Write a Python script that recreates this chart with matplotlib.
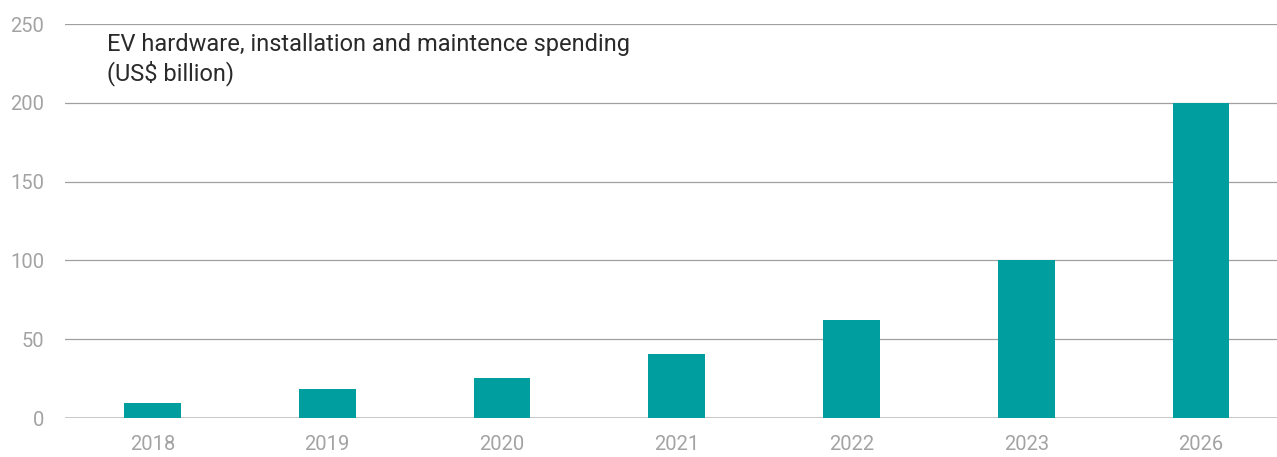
import matplotlib.pyplot as plt

# EV spending data (US$ billion)
years = ["2018", "2019", "2020", "2021", "2022", "2023", "2026"]
spending = [9.5, 18.5, 25.5, 40.5, 62, 100, 200]
y_ticks = [0, 50, 100, 150, 200, 250]

plt.rcParams["font.family"] = ["Roboto", "DejaVu Sans"]

fig = plt.figure(figsize=(12.77, 4.57), dpi=100)
ax = fig.add_axes([65 / 1277, 39 / 457, 1 - 65 / 1277, 394 / 457])

positions = list(range(len(years)))
ax.bar(positions, spending, width=0.325, color="#009e9f", zorder=3)

ax.set_xlim(-0.5, 6.435)
ax.set_ylim(0, 250)
ax.set_yticks(y_ticks)
ax.set_xticks(positions)
ax.set_xticklabels(years)

ax.yaxis.grid(True, color="#a0a0a0", linewidth=0.9, zorder=0)
ax.axhline(0, color="#c8c8c8", linewidth=1.4, zorder=2)
for side in ["top", "right", "left", "bottom"]:
    ax.spines[side].set_visible(False)

ax.tick_params(axis="both", length=0, labelsize=14.5, labelcolor="#a3a3a3")
ax.tick_params(axis="y", pad=15)
ax.tick_params(axis="x", pad=12)

ax.text(0.0347, 0.978,
        "EV hardware, installation and maintence spending\n(US$ billion)",
        transform=ax.transAxes, ha="left", va="top",
        fontsize=17, color="#2a2a2a", linespacing=1.25)

plt.savefig("out.png", dpi=100)
